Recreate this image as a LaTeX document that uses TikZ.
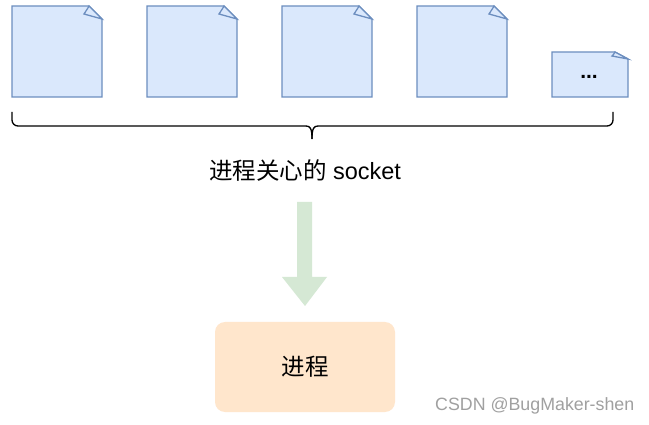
\documentclass[tikz,border=0pt]{standalone}
\usepackage{fontspec}
\setmainfont{Liberation Sans}
\newfontfamily\cjk{Noto Sans CJK SC}
\definecolor{docfill}{HTML}{DAE8FC}
\definecolor{docline}{HTML}{6C8EBF}
\definecolor{arrowgreen}{HTML}{D5E8D4}
\definecolor{procfill}{HTML}{FFE6CC}
\definecolor{wmgray}{HTML}{A0A0A0}
\begin{document}
\begin{tikzpicture}[x=1pt,y=-1pt,
  docshape/.style={fill=docfill,draw=docline,line width=1.3pt,line join=miter},
  bigtext/.style={font=\fontsize{23.5}{27}\selectfont,inner sep=0pt}]
\useasboundingbox[fill=white] (0,0) rectangle (649,425);
% documents
\foreach \x/\n in {12/d1,147/d2,282/d3,417/d4}{
  \draw[docshape] (\x,6) -- (\x+77,6) -- (\x+90,19) -- (\x+90,97) -- (\x,97) -- cycle;
  \draw[docshape] (\x+77,6) .. controls (\x+75,10) and (\x+73,12) .. (\x+72,14) -- (\x+90,19) -- cycle;
  \coordinate (\n) at (\x+45,51);
}
\draw[docshape] (552,52) -- (615,52) -- (628,59) -- (628,97) -- (552,97) -- cycle;
\draw[docshape] (615,52) .. controls (614,54) and (613,55) .. (612,56) -- (628,59) -- cycle;
\node[inner sep=0pt,font=\bfseries\fontsize{21}{24}\selectfont] (d5) at (589,77) {...};
% brace
\coordinate (bl) at (12,112);
\coordinate (br) at (613,112);
\coordinate (bt) at (312,139);
\draw[line width=1.3pt,rounded corners=6pt] (bl) -- (12,126) -- (306,126);
\draw[line width=1.3pt,rounded corners=6pt] (br) -- (613,126) -- (318,126);
\draw[line width=1.3pt] (306,126) .. controls (310,126) and (312,128) .. (bt);
\draw[line width=1.3pt] (318,126) .. controls (314,126) and (312,128) .. (bt);
% label
\node[bigtext] (lbl) at (305,171) {{\cjk 进程关心的} socket};
% process box
\node[bigtext,fill=procfill,rounded corners=10pt,minimum width=180pt,minimum height=90pt] (proc) at (305,367) {\cjk 进程};
% fat arrow
\fill[arrowgreen] (297,202) -- (312,202) -- (312,277) -- (327,277) -- (305,306) -- (282,277) -- (297,277) -- cycle;
\coordinate (arrtop) at (305,202);
% watermark
\node[inner sep=0pt,text=wmgray,font=\fontsize{17.8}{20}\selectfont,anchor=west] (wm) at (435,406) {CSDN @BugMaker-shen};
\end{tikzpicture}
\end{document}
